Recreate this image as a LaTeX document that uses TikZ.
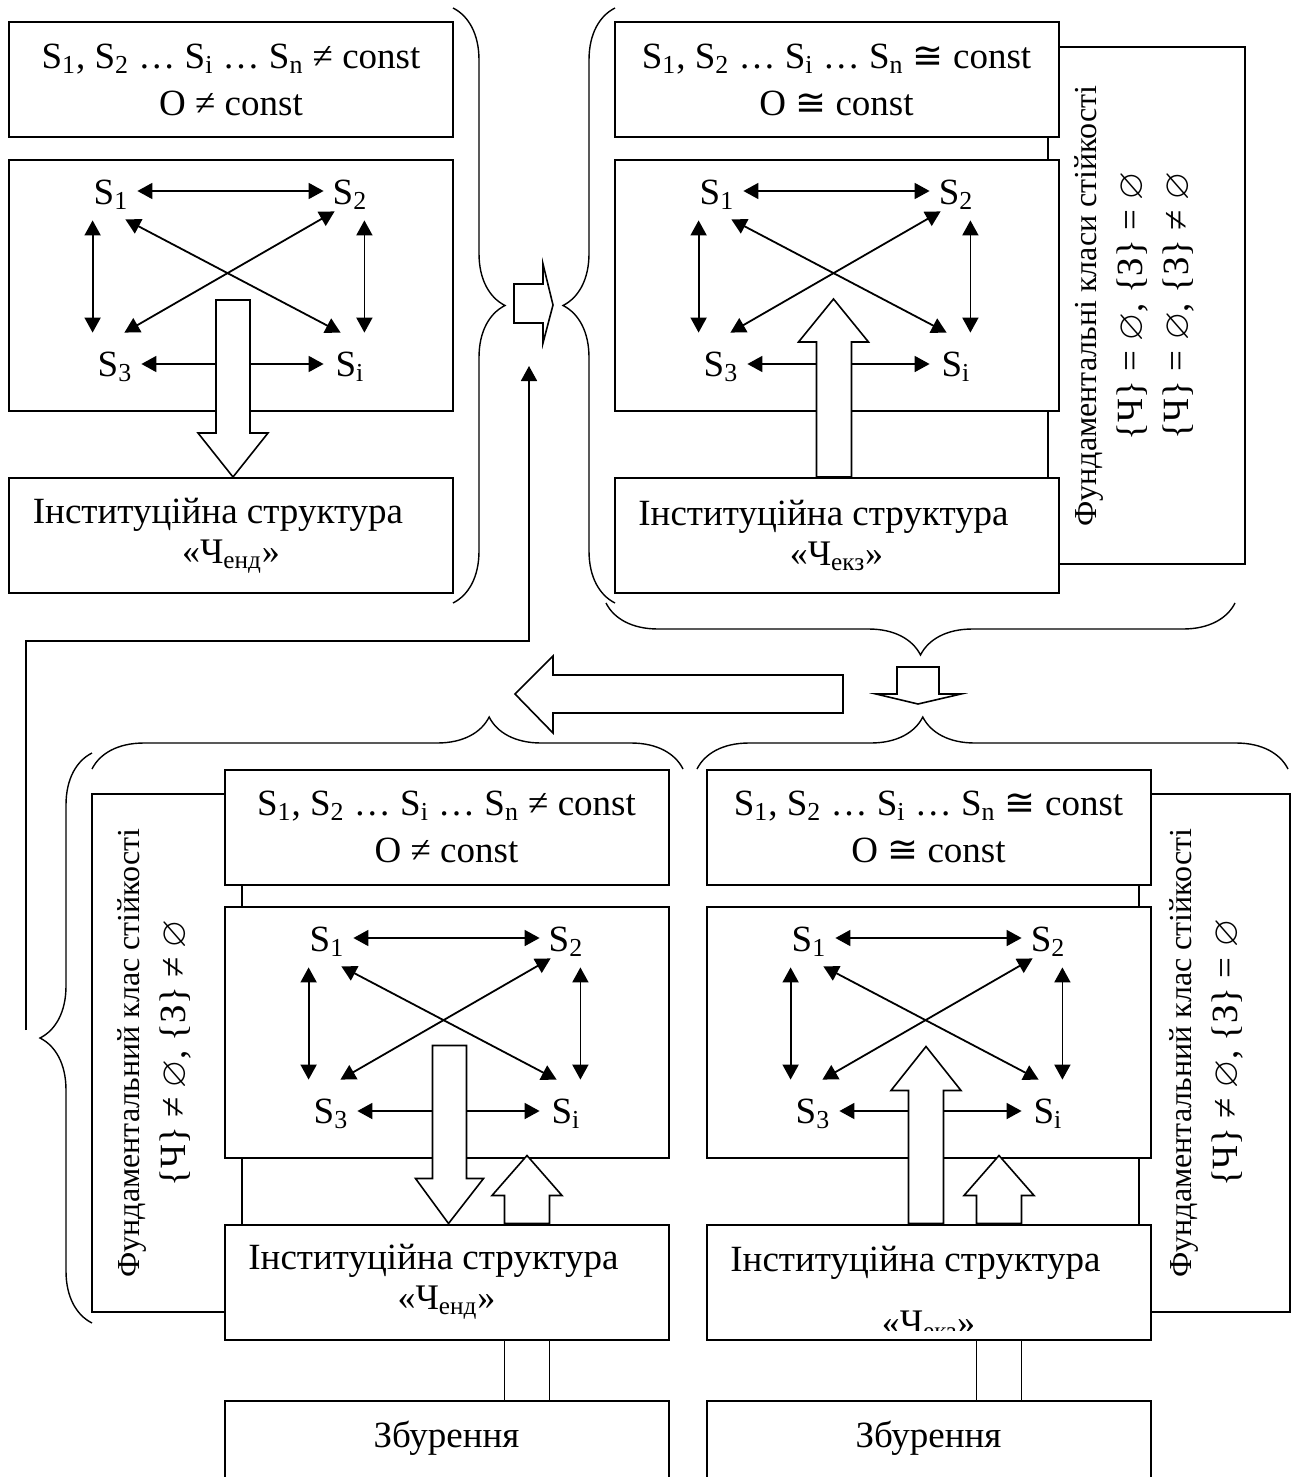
\documentclass[tikz,border=0pt]{standalone}
\usepackage{amssymb}
\usepackage{fontspec}
\setmainfont{Liberation Serif}
\newfontfamily\symfont{DejaVu Sans}
\usetikzlibrary{arrows.meta,decorations.pathreplacing}

\newcommand{\subi}[1]{\textsubscript{#1}}
\newcommand{\cng}{{\symfont ≅}}
\newcommand{\mainsize}{\fontsize{18.5pt}{23.5pt}\selectfont}
\newcommand{\lineii}{\fontsize{18pt}{20pt}\selectfont}
\newcommand{\sidesize}{\fontsize{16pt}{23pt}\selectfont}
\newcommand{\slist}[1]{S\subi{1}, S\subi{2} … S\subi{i} … S\subi{n} #1 const}

\tikzset{
  box/.style={draw, line width=1pt, fill=white, inner sep=0pt, align=center,
    minimum width=222pt, minimum height=57.5pt, font=\mainsize},
  net/.style={box, minimum height=125.5pt},
  inst/.style={box, font=\fontsize{18.5pt}{20pt}\selectfont},
  sidebox/.style={draw, line width=0.8pt, fill=white},
  sidetext/.style={rotate=90, align=center, inner sep=0pt, font=\sidesize},
  lbl/.style={inner sep=0pt, minimum width=26pt, minimum height=21pt, font=\mainsize},
  lnk/.style={line width=0.9pt, {Triangle[length=7.5pt,width=8pt]}-{Triangle[length=7.5pt,width=8pt]}},
  fwd/.style={line width=0.9pt, -{Triangle[length=7.5pt,width=8pt]}},
  blk/.style={draw, line width=0.8pt, fill=white},
  brc/.style={decorate, decoration={brace, amplitude=26pt, aspect=#1}, line width=0.7pt},
  brc/.default=0.5
}

\begin{document}
\begin{tikzpicture}[x=0.5pt, y=-0.5pt]
\useasboundingbox (0,0) rectangle (1299,1477);
\clip (0,0) rectangle (1299,1477);

% side boxes
\node[sidebox, minimum width=98.5pt, minimum height=258.5pt] (bside) at (1146.5,305.5) {};
\node[sidebox, minimum width=75pt, minimum height=259pt] (cside) at (167,1053) {};
\node[sidebox, minimum width=75.5pt, minimum height=259pt] (dside) at (1214.5,1053) {};

\node[sidetext] (btext) at (1134,306) {Фундаментальні класи стійкості\\
  {\mainsize \{Ч\} = $\varnothing$, \{З\} = $\varnothing$}\\
  {\mainsize \{Ч\} = $\varnothing$, \{З\} ≠ $\varnothing$}};
\node[sidetext] (ctext) at (154,1053) {Фундаментальний клас стійкості\\
  {\mainsize \{Ч\} ≠ $\varnothing$, \{З\} ≠ $\varnothing$}};
\node[sidetext] (dtext) at (1206,1053) {Фундаментальний клас стійкості\\
  {\mainsize \{Ч\} ≠ $\varnothing$, \{З\} = $\varnothing$}};

% boxes
\node[box] (a1) at (231,79.5) {\slist{≠}\\O ≠ const};
\node[net] (a2) at (231,285.5) {};
\node[inst] (a3) at (231,535.5) {Інституційна структура\hspace*{13pt}\\{\lineii «Ч\subi{енд}»}};

\node[box] (b1) at (836.5,79.5) {\slist{\cng}\\O \cng{} const};
\node[net] (b2) at (836.5,285.5) {};
\node[inst] (b3) at (836.5,535.5) {Інституційна структура\hspace*{13pt}\\{\lineii «Ч\subi{екз}»}};

\node[box] (c1) at (446.5,827) {\slist{≠}\\O ≠ const};
\node[net] (c2) at (446.5,1032) {};
\node[inst] (c3) at (446.5,1282) {Інституційна структура\hspace*{13pt}\\{\lineii «Ч\subi{енд}»}};
\node[box, minimum height=60pt, text height=13pt, text depth=27pt] (c4) at (446.5,1461) {Збурення};

\node[box] (d1) at (928.5,827) {\slist{\cng}\\O \cng{} const};
\node[net] (d2) at (928.5,1032) {};
\node[inst] (d3) at (928.5,1282) {Інституційна структура\hspace*{13pt}\\{\lineii\phantom{«Ч\subi{екз}»}}};
\begin{scope}
\clip (707,1225) rectangle (1150,1330);
\node[anchor=base, inner sep=0pt, font=\lineii] (d3x) at (928.5,1334) {«Ч\subi{екз}»};
\end{scope}
\node[box, minimum height=60pt, text height=13pt, text depth=27pt] (d4) at (928.5,1461) {Збурення};

% S1, S2, S3, Si inside each group
\foreach \grp/\gx/\gy in {a/9/160, b/615/160, c/225/907, d/707/907}{
\begin{scope}[shift={(\gx,\gy)}]
\node[lbl] (\grp-s1) at (102,35) {S\subi{1}};
\node[lbl] (\grp-s2) at (341,35) {S\subi{2}};
\node[lbl] (\grp-s3) at (106,207) {S\subi{3}};
\node[lbl] (\grp-si) at (341,207) {S\subi{i}};
\draw[lnk] ([yshift=2pt]\grp-s1.east) -- ([yshift=2pt]\grp-s2.west);
\draw[lnk] ([yshift=1.5pt]\grp-s3.east) -- ([yshift=1.5pt]\grp-si.west);
\draw[lnk] ([xshift=4pt,yshift=-2pt]\grp-s1.south west) -- ([xshift=2pt,yshift=6.5pt]\grp-s3.north west);
\draw[lnk] ([xshift=-6pt,yshift=-2pt]\grp-s2.south east) -- ([xshift=-6pt,yshift=6.5pt]\grp-si.north east);
\draw[lnk] ([xshift=-6pt,yshift=-1.5pt]\grp-s1.south east) -- ([xshift=8.5pt,yshift=6.5pt]\grp-si.north west);
\draw[lnk] ([xshift=5.5pt,yshift=2.5pt]\grp-s2.south west) -- ([xshift=-8.5pt,yshift=6.5pt]\grp-s3.north east);
\end{scope}
}

% block arrows
\draw[blk] ([xshift=1pt]a3.north) -- ++(-35,-44) -- ++(18,0) -- ++(0,-133) -- ++(34,0) -- ++(0,133) -- ++(18,0) -- cycle;
\draw[blk] ([xshift=-10pt]b3.north) -- ++(0,-135) -- ++(-18,0) -- ++(35,-43) -- ++(35,43) -- ++(-17,0) -- ++(0,135) -- cycle;
\draw[blk] ([xshift=1pt]c3.north) -- ++(-33,-45) -- ++(17,0) -- ++(0,-133) -- ++(34,0) -- ++(0,133) -- ++(17,0) -- cycle;
\draw[blk] ([xshift=29pt]c3.north) -- ++(0,-28) -- ++(-12.5,0) -- ++(35,-40) -- ++(35,40) -- ++(-12.5,0) -- ++(0,28) -- cycle;
\draw[blk] ([xshift=29pt]c3.south) -- ([xshift=29pt]c4.north);
\draw[blk] ([xshift=51.5pt]c3.south) -- ([xshift=51.5pt]c4.north);
\draw[blk] ([xshift=-10pt]d3.north) -- ++(0,-133) -- ++(-17.5,0) -- ++(35,-44) -- ++(35,44) -- ++(-17.5,0) -- ++(0,133) -- cycle;
\draw[blk] ([xshift=24pt]d3.north) -- ++(0,-28) -- ++(-12.5,0) -- ++(35,-40) -- ++(35,40) -- ++(-12.5,0) -- ++(0,28) -- cycle;
\draw[blk] ([xshift=24pt]d3.south) -- ([xshift=24pt]d4.north);
\draw[blk] ([xshift=46.5pt]d3.south) -- ([xshift=46.5pt]d4.north);

\draw[blk] (553,305) -- (543,264) -- (543,284) -- (514,284) -- (514,323) -- (543,323) -- (543,343) -- cycle;
\draw[blk] (515,694) -- (553,656) -- (553,675) -- (843,675) -- (843,713) -- (553,713) -- (553,733) -- cycle;
\draw[blk] (918,704) -- (876,694) -- (897,694) -- (897,667) -- (939,667) -- (939,694) -- (961,694) -- cycle;

% feedback
\coordinate (fb0) at (26,1030);
\coordinate (fbk) at (26,641);
\coordinate (fb1) at (529,366);
\draw[fwd] (fb0) -- (fbk) -| (fb1);

% braces
\draw[brc] (453,8) -- (453,603);
\draw[brc] (615,603) -- (615,8);
\draw[brc] (1235,603) -- (606,603);
\draw[brc=0.672] (92,769) -- (683,769);
\draw[brc=0.382] (697,769) -- (1288,769);
\draw[brc] (92,1323) -- (92,753);

\end{tikzpicture}
\end{document}
